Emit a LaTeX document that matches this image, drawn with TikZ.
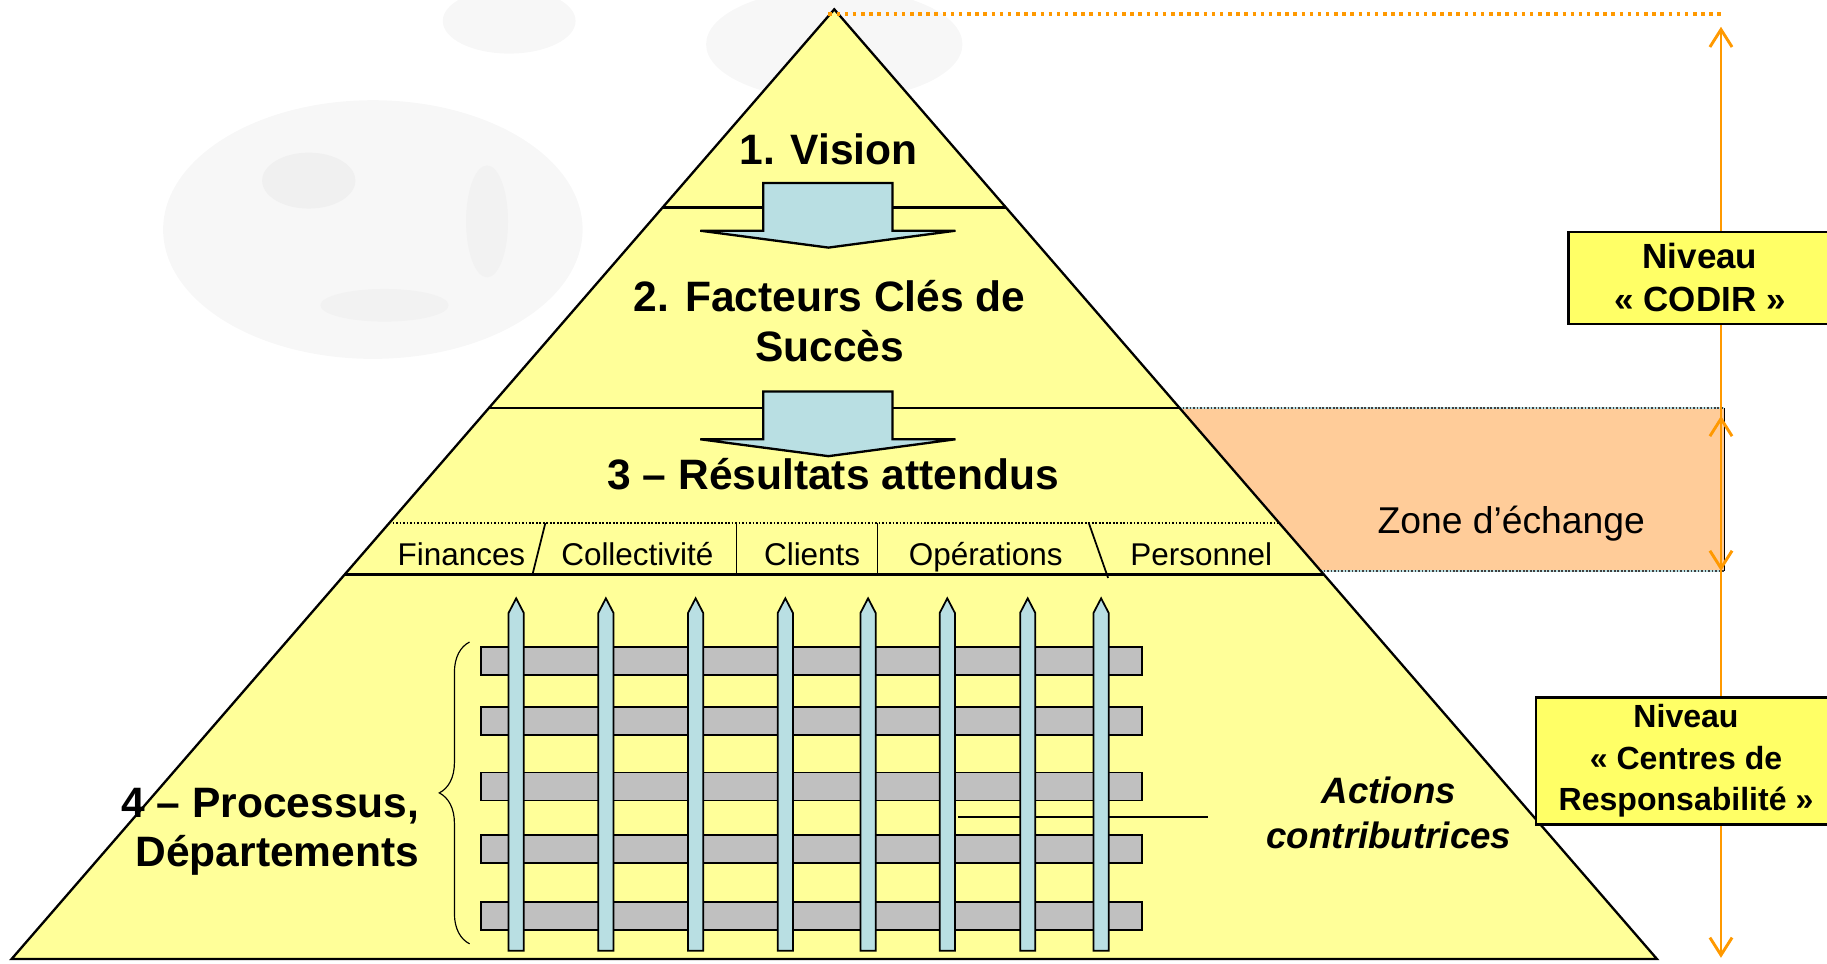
\documentclass[tikz,border=0pt]{standalone}
\usepackage{fontspec}
\setmainfont{Liberation Sans}
\usetikzlibrary{arrows.meta, decorations.pathreplacing, positioning}

\definecolor{pyryellow}{HTML}{FFFF99}
\definecolor{boxyellow}{HTML}{FFFF66}
\definecolor{zonepeach}{HTML}{FFCC99}
\definecolor{stickblue}{HTML}{B9DFE3}
\definecolor{bargray}{HTML}{C0C0C0}
\definecolor{levelorange}{HTML}{FF9900}

\begin{document}
\begin{tikzpicture}[
    x=1pt, y=-1pt,
    line join=miter,
    title/.style={font=\fontsize{36.5}{42.5}\selectfont\bfseries, align=center, anchor=base, inner sep=0pt},
    catlabel/.style={font=\fontsize{27}{32}\selectfont, anchor=base, inner sep=0pt},
    levelbox/.style={draw, line width=2pt, fill=boxyellow, align=center, inner sep=0pt},
    layerline/.style={line width=2pt},
    divider/.style={line width=1.5pt},
    blockarrow/.style={draw, line width=2pt, fill=stickblue},
    hbar/.style={draw, line width=1.5pt, fill=bargray},
    stick/.style={draw, line width=1.5pt, fill=stickblue},
    span/.style={draw=levelorange, line width=2.5pt,
      {Straight Barb[length=15pt, width=19pt]}-{Straight Barb[length=15pt, width=19pt]}},
    zoneedge/.style={line width=1.5pt, dash pattern=on 1.5pt off 1.5pt, black!75}
  ]

  \useasboundingbox (0,0) rectangle (1568,827);

  % --- FADED GLOBES ---
  \fill[black!3] (320,197) ellipse [x radius=180, y radius=111];
  \fill[black!6] (265,155) ellipse [x radius=40, y radius=24];
  \fill[black!5] (330,262) ellipse [x radius=55, y radius=14];
  \fill[black!5] (418,190) ellipse [x radius=18, y radius=48];
  \fill[black!3] (437,18) ellipse [x radius=57, y radius=28];
  \fill[black!3] (716,38) ellipse [x radius=110, y radius=48];

  % --- PYRAMID ---
  \coordinate (peak) at (716,8);
  \coordinate (baseL) at (10,823);
  \coordinate (baseR) at (1422,823);

  \fill[zonepeach] (1000,350) rectangle (1480,490);
  \fill[pyryellow] (peak) -- (baseL) -- (baseR) -- cycle;

  \begin{scope}
    \clip (peak) -- (baseL) -- (baseR) -- cycle;
    \draw[layerline] (0,178) -- (1568,178);
    \draw[layerline] (0,350) -- (1568,350);
    \draw[zoneedge, black] (337,449) -- (1568,449);
    \draw[layerline, line width=2.5pt] (0,493) -- (1568,493);
  \end{scope}

  % zone d'echange borders
  \draw[stickblue, line width=1.5pt] (1012,350) -- (1480,350) (1133,490) -- (1480,490);
  \draw[zoneedge] (1012,350) -- (1480,350);
  \draw[zoneedge] (1133,490) -- (1480,490);
  \draw[line width=1.5pt] (1480,350) -- (1480,490);

  % category dividers
  \draw[divider] (468,449) -- (457,493);
  \draw[divider] (632,449) -- (632,493);
  \draw[divider] (753,449) -- (753,493);
  \draw[divider] (934.5,449) -- (951,496);

  % --- BLOCK ARROWS ---
  \foreach \t in {157,336}
    \draw[blockarrow] (655,\t) -- (766,\t) -- (766,\t+41) -- (820,\t+41)
      -- (711,\t+55.5) -- (601,\t+41) -- (655,\t+41) -- cycle;

  % --- GRID OF ACTIONS ---
  \foreach \y in {567,619,675,728.5,786}
    \draw[hbar] (413,\y-12) rectangle (980,\y+12);

  \coordinate (leadA) at (822,701);
  \coordinate (leadB) at (1037,701);
  \draw[line width=1.5pt] (leadA) -- (leadB);

  \foreach \x in {443,520,597,674,745,813,882,945}
    \draw[stick] (\x-6.5,816) -- (\x-6.5,526) -- (\x,513.5) -- (\x+6.5,526)
      -- (\x+6.5,816) -- cycle;

  \draw[decorate, decoration={brace, amplitude=26pt}, line width=1pt] (403,810) -- (403,551);

  \draw[line width=2pt] (peak) -- (baseL) -- (baseR) -- cycle;

  % --- LABELS ---
  \node[title] (vision) at (711,141) {1. Vision};
  \node[title] (facteurs) at (712,310) {2. Facteurs Clés de\\Succès};
  \node[title] (resultats) at (715,420) {3 – Résultats attendus};
  \node[title, align=right, anchor=base east] (processus) at (360,744) {4 – Processus,\\Départements};
  \node[font=\fontsize{31.5}{38}\selectfont\bfseries\itshape, align=center, anchor=base,
        inner sep=0pt] (actions) at (1192,728) {Actions\\contributrices};
  \node[font=\fontsize{32}{38}\selectfont, anchor=base, inner sep=0pt] (zone) at (1297,458) {Zone d’échange};

  \node[catlabel] (fin) at (396,485) {Finances};
  \node[catlabel] (coll) at (547,485) {Collectivité};
  \node[catlabel] (cli) at (697,485) {Clients};
  \node[catlabel] (ope) at (846,485) {Opérations};
  \node[catlabel] (pers) at (1031,485) {Personnel};

  % --- LEVELS ---
  \draw[levelorange, line width=3pt, dash pattern=on 3pt off 4pt] (711,12) -- (1478,12);

  \coordinate (codirTop) at (1477,23);
  \coordinate (codirBot) at (1477,490);
  \coordinate (crTop) at (1477,357);
  \coordinate (crBot) at (1477,822);
  \draw[span] (codirTop) -- (codirBot);
  \draw[span] (crTop) -- (crBot);

  \node[levelbox, minimum width=226pt, minimum height=79pt,
        font=\fontsize{30}{37}\selectfont\bfseries] (codir) at (1459,238.5) {Niveau\\« CODIR »};
  \node[levelbox, minimum width=258pt, minimum height=109pt,
        font=\fontsize{27.5}{35.5}\selectfont\bfseries] (centres) at (1447,653)
        {Niveau\\« Centres de\\Responsabilité »};

\end{tikzpicture}
\end{document}
